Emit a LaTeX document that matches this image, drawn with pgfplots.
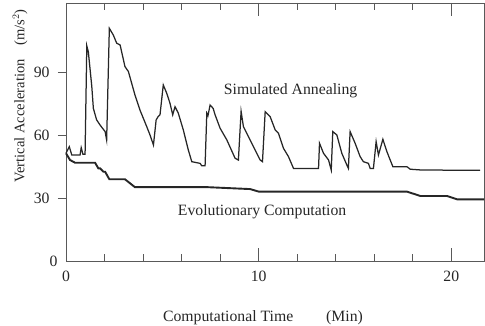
\documentclass[border=0pt]{standalone}
\usepackage{pgfplots}
\pgfplotsset{compat=1.18}
\usepackage{fontspec}
\setmainfont{Liberation Serif}
\begin{document}
\fontsize{15.8}{18}\selectfont
\begin{tikzpicture}
\begin{axis}[
  width=418bp, height=258bp, scale only axis,
  xmin=0, xmax=21.7, ymin=0, ymax=123.4,
  axis line style={color=black!65, line width=0.9bp},
  xtick={0}, minor xtick={2,4,6,8,12,14,16,18},
  extra x ticks={10,20}, extra x tick style={major tick length=13bp},
  xtick align=inside, ytick align=outside,
  major tick length=8bp, minor tick length=7bp,
  ytick={30,60,90},
  extra y ticks={0}, extra y tick style={major tick length=0pt},
  tick style={color=black!65, line width=0.9bp},
  every tick label/.append style={font=\fontsize{15.8}{18}\selectfont, text=black!85},
  /pgf/number format/assume math mode=true,
  xticklabel style={yshift=-5bp},
  yticklabel style={xshift=-3bp},
  xlabel={Computational Time\hspace{33bp}(Min)},
  xlabel style={at={(rel axis cs:0,0)}, anchor=base, xshift=197bp, yshift=-60bp, text=black!85},
  ylabel={Vertical Acceleration\hspace{14bp}(m/s$^2$)},
  ylabel style={at={(rel axis cs:0,0.64)}, anchor=center, yshift=46bp, text=black!85,
    font=\fontsize{14.6}{17}\selectfont},
  clip=false,
]
\addplot[black!85, line width=1.25bp] coordinates {
(0,51.5) (0.17,54.7) (0.30,50.7) (0.73,50.7) (0.79,54.2) (0.88,51) (0.99,51)
(1.08,102.9) (1.16,100) (1.34,83.4) (1.42,73) (1.59,67.5) (1.77,65) (2.03,61.9) (2.11,57.9)
(2.25,111.3) (2.46,108) (2.63,104.2) (2.81,103.3) (3.06,93) (3.24,90.6) (3.58,79.4) (3.84,72.2)
(4.19,64.3) (4.36,60.3) (4.54,55.5) (4.68,67.5) (4.78,69) (4.88,69.9)
(5.05,84.2) (5.23,80.2) (5.40,75.4) (5.54,69.9) (5.66,73.8) (5.83,70.7) (6.09,62.7) (6.35,53.1)
(6.53,47.5) (6.96,46.7) (7.05,45.5) (7.22,45.5)
(7.31,70.7) (7.37,69.5) (7.48,74.6) (7.64,73) (7.74,69.9) (8.0,63.5) (8.35,57.9) (8.78,49.1) (8.95,48.3)
(9.09,71.6) (9.21,64.3) (9.47,59.5) (9.82,53.1) (10.08,48.3) (10.2,47.5)
(10.34,71.4) (10.6,69) (10.86,62.7) (11.03,61.1) (11.29,53.9) (11.55,49.9) (11.81,44.3)
(13.11,44.3) (13.16,56.3) (13.37,51.5) (13.63,48.3) (13.77,43.5)
(13.85,61.9) (14.06,60.3) (14.32,51.5) (14.58,45.9) (14.66,44.3)
(14.75,61.9) (15.01,56.3) (15.27,49.9) (15.44,47.5) (15.70,46.7) (15.79,44.3) (15.96,44.3)
(16.10,57.1) (16.22,50.7) (16.45,58.2) (16.66,52.3) (16.83,48.3) (16.97,45.1)
(17.70,45.1) (17.87,43.9) (18.48,43.5) (21.5,43.4)
};
\addplot[black!85, line width=1.9bp] coordinates {
(0,51.5) (0.21,48.3) (0.47,47) (1.51,47) (1.68,44.3) (1.77,44.3) (1.94,42.7) (2.03,42.7)
(2.25,39.1) (3.06,39.1) (3.58,35.3) (7.38,35.3) (9.56,34.4) (10.0,33.2) (17.70,33.2)
(18.39,31.1) (19.78,31.1) (20.30,29.5) (21.7,29.5)
};
\node[anchor=base, text=black!85] at (axis cs:11.66,79.4) {Simulated Annealing};
\node[anchor=base, text=black!85] at (axis cs:10.18,22.0) {Evolutionary Computation};
\end{axis}
\pgfresetboundingbox
\useasboundingbox (-66bp,-65bp) rectangle (419bp,261bp);
\end{tikzpicture}
\end{document}
